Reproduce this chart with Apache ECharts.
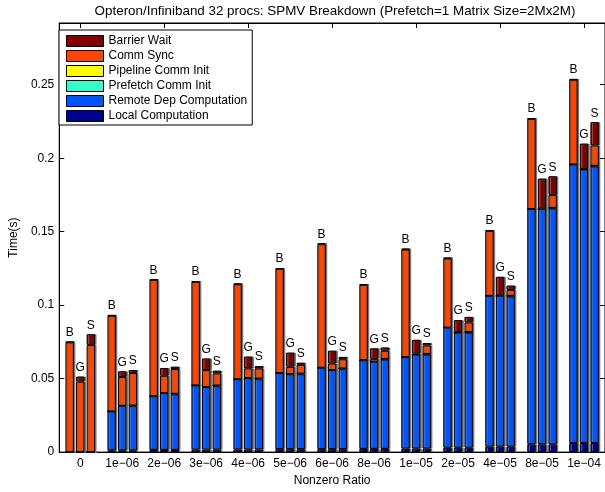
<!DOCTYPE html>
<html>
<head>
<meta charset="utf-8">
<script src="https://cdn.jsdelivr.net/npm/echarts@6/dist/echarts.min.js"></script>
<style>html,body{margin:0;padding:0;background:#fff}#c{width:605px;height:492px}</style>
</head>
<body>
<div id="c"></div>
<script>
const categories = ['0','1e\u221206','2e\u221206','3e\u221206','4e\u221206','5e\u221206','6e\u221206','8e\u221206','1e\u221205','2e\u221205','4e\u221205','8e\u221205','1e\u221204'];
const yTicks = [0, 0.05, 0.1, 0.15, 0.2, 0.25];
const seriesNames = ['Local Computation','Remote Dep Computation','Prefetch Comm Init','Pipeline Comm Init','Comm Sync','Barrier Wait'];
const legendOrder = ['Barrier Wait','Comm Sync','Pipeline Comm Init','Prefetch Comm Init','Remote Dep Computation','Local Computation'];
const colors = ['#00008f','#0055ff','#33ffcc','#ffff00','#ff4500','#800000'];

// B bars
const localB    = [0, 0.0012, 0.0015, 0.0017, 0.0018, 0.002, 0.002, 0.0022, 0.0024, 0.003, 0.0037, 0.0053, 0.0062];
const remoteB   = [0, 0.0265, 0.0365, 0.0437, 0.0478, 0.0518, 0.0554, 0.0603, 0.0622, 0.0817, 0.1026, 0.1601, 0.1895];
const prefetchB = [0, 0, 0, 0, 0, 0, 0, 0, 0, 0, 0, 0, 0];
const pipelineB = [0, 0, 0, 0, 0, 0, 0, 0, 0, 0, 0, 0, 0];
const commB     = [0.0747, 0.0651, 0.0791, 0.0704, 0.0646, 0.0709, 0.0841, 0.0513, 0.0733, 0.0471, 0.0443, 0.0614, 0.0577];
const barrierB  = [0.0004, 0.0004, 0.0004, 0.0004, 0.0004, 0.0004, 0.0004, 0.0004, 0.0004, 0.0004, 0.0004, 0.0004, 0.0004];
// G bars
const localG    = [0, 0.0012, 0.0015, 0.0017, 0.0018, 0.002, 0.002, 0.0022, 0.0024, 0.003, 0.0037, 0.0053, 0.0062];
const remoteG   = [0, 0.0303, 0.0387, 0.0425, 0.0485, 0.051, 0.0538, 0.0593, 0.064, 0.0783, 0.1026, 0.1601, 0.1862];
const prefetchG = [0, 0, 0, 0, 0, 0, 0, 0, 0, 0, 0, 0, 0];
const pipelineG = [0, 0, 0, 0, 0, 0, 0, 0, 0, 0, 0, 0, 0];
const commG     = [0.048, 0.0196, 0.0118, 0.0116, 0.0067, 0.0051, 0.0045, 0.002, 0.0006, 0.0003, 0.0003, 0.0003, 0.0003];
const barrierG  = [0.0034, 0.0039, 0.0052, 0.0079, 0.008, 0.0096, 0.0087, 0.0071, 0.0094, 0.0082, 0.0127, 0.0204, 0.0172];
// S bars
const localS    = [0, 0.0012, 0.0015, 0.0017, 0.0018, 0.002, 0.002, 0.0022, 0.0024, 0.003, 0.0037, 0.0053, 0.0062];
const remoteS   = [0, 0.0301, 0.0378, 0.0432, 0.0478, 0.051, 0.0545, 0.0608, 0.064, 0.0783, 0.1022, 0.1605, 0.1882];
const prefetchS = [0, 0.0004, 0.0004, 0.0004, 0.0004, 0.0004, 0.0004, 0.0004, 0.0004, 0.0004, 0.0004, 0.0004, 0.0004];
const pipelineS = [0, 0, 0, 0, 0, 0, 0, 0, 0, 0, 0, 0, 0];
const commS     = [0.073, 0.0221, 0.0168, 0.0083, 0.007, 0.006, 0.0063, 0.0056, 0.0058, 0.0066, 0.0041, 0.0089, 0.0139];
const barrierS  = [0.0072, 0.002, 0.0016, 0.0018, 0.0015, 0.0014, 0.0016, 0.0022, 0.0016, 0.0037, 0.0029, 0.0126, 0.0158];

const stacks = {
  B: [localB, remoteB, prefetchB, pipelineB, commB, barrierB],
  G: [localG, remoteG, prefetchG, pipelineG, commG, barrierG],
  S: [localS, remoteS, prefetchS, pipelineS, commS, barrierS]
};

const FONT = 'Liberation Sans, Arial, Helvetica, sans-serif';
const series = [];
['B','G','S'].forEach(function (key) {
  stacks[key].forEach(function (arr, k) {
    const s = {
      name: seriesNames[k],
      type: 'bar',
      stack: key,
      data: arr,
      barWidth: 8.4,
      barGap: '26%',
      itemStyle: {
        color: colors[k],
        borderColor: '#000',
        borderWidth: 1,
        shadowColor: 'rgba(110,110,110,0.95)',
        shadowOffsetX: 1.5,
        shadowOffsetY: 0,
        shadowBlur: 0
      },
      emphasis: { disabled: true },
      animation: false
    };
    if (k === 5) {
      s.label = {
        show: true,
        position: 'top',
        distance: 3,
        formatter: key,
        color: '#000',
        fontSize: 12,
        fontFamily: FONT
      };
    }
    series.push(s);
  });
});

const chart = echarts.init(document.getElementById('c'), null, { renderer: 'canvas' });
chart.setOption({
  animation: false,
  backgroundColor: '#fff',
  color: colors,
  title: {
    text: 'Opteron/Infiniband 32 procs: SPMV Breakdown (Prefetch=1 Matrix Size=2Mx2M)',
    left: 330, top: 0, textAlign: 'center',
    textStyle: { fontSize: 13.4, fontWeight: 'normal', color: '#000', fontFamily: FONT }
  },
  legend: {
    data: legendOrder,
    orient: 'vertical',
    left: 59, top: 30,
    icon: 'rect',
    itemWidth: 37, itemHeight: 11, itemGap: 3,
    padding: [5, 5, 3, 7],
    borderColor: '#000', borderWidth: 1, backgroundColor: '#fff',
    textStyle: { fontSize: 12, lineHeight: 12, color: '#000', fontFamily: FONT },
    itemStyle: { borderColor: '#000', borderWidth: 1, shadowColor: 'transparent' },
    selectedMode: false
  },
  grid: { left: 54, top: 23, width: 552, height: 436, containLabel: false,
          show: true, borderColor: '#000', borderWidth: 1, backgroundColor: 'transparent' },
  xAxis: [{
    type: 'category',
    data: categories,
    position: 'bottom',
    name: 'Nonzero Ratio', nameLocation: 'middle', nameGap: 18,
    nameTextStyle: { fontSize: 12, color: '#000', fontFamily: FONT },
    axisLine: { show: true, lineStyle: { color: '#000', width: 1 } },
    axisTick: { inside: true, length: 5, alignWithLabel: true, lineStyle: { color: '#000' } },
    axisLabel: { color: '#000', fontSize: 12, margin: 6, fontFamily: FONT, interval: 0 },
    splitLine: { show: false }
  }, {
    type: 'category',
    data: categories,
    position: 'top',
    axisLine: { show: true, onZero: false, lineStyle: { color: '#000', width: 1 } },
    axisTick: { show: true, inside: true, length: 5, alignWithLabel: true, lineStyle: { color: '#000' } },
    axisLabel: { show: false },
    splitLine: { show: false }
  }],
  yAxis: [{
    type: 'value', min: 0, max: 0.292, interval: 0.05,
    name: 'Time(s)', nameLocation: 'middle', nameGap: 33,
    nameTextStyle: { fontSize: 12, color: '#000', fontFamily: FONT },
    axisLine: { show: true, lineStyle: { color: '#000', width: 1 } },
    axisTick: { show: true, inside: true, length: 5, lineStyle: { color: '#000' } },
    axisLabel: {
      color: '#000', fontSize: 12, margin: 5, fontFamily: FONT,
      formatter: function (v) {
        for (let i = 0; i < yTicks.length; i++) {
          if (Math.abs(v - yTicks[i]) < 1e-9) return String(yTicks[i]);
        }
        return '';
      }
    },
    splitLine: { show: false }
  }, {
    type: 'value', min: 0, max: 0.292, interval: 0.05, position: 'right',
    axisLine: { show: true, lineStyle: { color: '#000', width: 1 } },
    axisTick: { show: true, inside: true, length: 5, lineStyle: { color: '#000' } },
    axisLabel: { show: false },
    splitLine: { show: false }
  }],
  series: series
});
</script>
</body>
</html>
